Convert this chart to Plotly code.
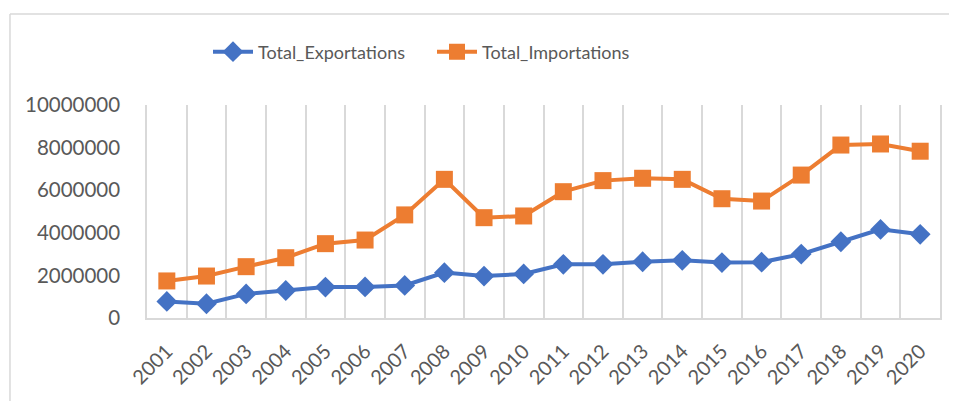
import plotly.graph_objects as go

years = [str(y) for y in range(2001, 2021)]
exportations = [780000, 670000, 1130000, 1290000, 1450000, 1460000, 1530000, 2130000, 1970000, 2070000,
                2520000, 2520000, 2640000, 2710000, 2600000, 2620000, 3000000, 3580000, 4160000, 3930000]
importations = [1740000, 1970000, 2410000, 2830000, 3490000, 3660000, 4840000, 6510000, 4710000, 4790000,
                5930000, 6450000, 6560000, 6510000, 5600000, 5490000, 6710000, 8120000, 8170000, 7830000]
y_ticks = [0, 2000000, 4000000, 6000000, 8000000, 10000000]

FONT = "Lato"
TXT = "#595959"
GRID = "#d9d9d9"

fig = go.Figure()
fig.add_trace(go.Scatter(
    x=years, y=exportations, name="Total_Exportations", mode="lines+markers",
    line=dict(color="#4472C4", width=4),
    marker=dict(symbol="diamond", size=16, color="#4472C4"),
))
fig.add_trace(go.Scatter(
    x=years, y=importations, name="Total_Importations", mode="lines+markers",
    line=dict(color="#ED7D31", width=4),
    marker=dict(symbol="square", size=17, color="#ED7D31"),
))

fig.update_layout(
    width=957, height=401,
    margin=dict(l=139, r=25, t=97, b=91, autoexpand=False),
    paper_bgcolor="white", plot_bgcolor="white",
    font=dict(family=FONT, size=20, color=TXT),
    showlegend=True,
    legend=dict(orientation="h", x=200 / 957, xref="container", xanchor="left",
                y=1 - 44 / 401, yref="container", yanchor="middle",
                font=dict(family=FONT, size=18, color=TXT), itemwidth=40,
                entrywidth=169, entrywidthmode="pixels",
                traceorder="normal"),
    xaxis=dict(type="category", range=[-0.5, len(years) - 0.5], tickson="boundaries",
               showgrid=True, gridcolor=GRID, gridwidth=1.5,
               ticks="", tickangle=-45, showline=True, linecolor=GRID, linewidth=1.5,
               automargin=False, ticklabelstandoff=12,
               tickfont=dict(family=FONT, size=20, color=TXT), zeroline=False),
    yaxis=dict(range=[0, 10000000], tickvals=y_ticks, tickformat="d", showgrid=False,
               ticks="", showline=True, mirror=True, linecolor=GRID, linewidth=1.5, zeroline=False,
               ticklabelstandoff=21, automargin=False,
               tickfont=dict(family=FONT, size=20.5, color=TXT)),
    shapes=[
        dict(type="line", xref="paper", yref="paper", x0=-0.1728, x1=1.05, y0=1.427, y1=1.427,
             line=dict(color="#d9d9d9", width=1.5)),
        dict(type="line", xref="paper", yref="paper", x0=-0.1728, x1=-0.1728, y0=1.427, y1=-0.7,
             line=dict(color="#d9d9d9", width=1.5)),
    ],
)

fig.write_html("out.html")
